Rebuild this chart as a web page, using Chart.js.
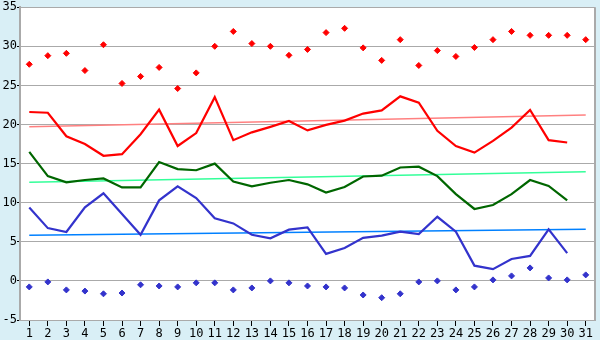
<!DOCTYPE html>
<html>
<head>
<meta charset="utf-8">
<script src="https://cdn.jsdelivr.net/npm/chart.js@4/dist/chart.umd.min.js"></script>
<style>
html,body{margin:0;padding:0;background:#d9eff6;}
#wrap{width:600px;height:340px;position:relative;}
</style>
</head>
<body>
<div id="wrap"><canvas id="c" width="600" height="340"></canvas></div>
<script>
const days = ['1','2','3','4','5','6','7','8','9','10','11','12','13','14','15','16','17','18','19','20','21','22','23','24','25','26','27','28','29','30','31'];
const yTicks = [-5, 0, 5, 10, 15, 20, 25, 30, 35];

const maxTemp = [21.6,21.5,18.5,17.5,16.0,16.2,18.75,21.9,17.25,18.9,23.5,18.0,19.0,19.7,20.45,19.25,19.95,20.5,21.4,21.8,23.6,22.8,19.2,17.25,16.4,17.9,19.6,21.85,18.0,17.7,null];
const meanTemp = [16.5,13.4,12.6,12.9,13.1,11.95,11.95,15.2,14.3,14.15,15.0,12.7,12.1,12.55,12.9,12.35,11.3,12.0,13.35,13.45,14.5,14.6,13.4,11.1,9.2,9.7,11.1,12.9,12.15,10.3,null];
const minTemp = [9.4,6.75,6.25,9.4,11.2,8.55,5.9,10.3,12.1,10.6,8.0,7.35,5.9,5.45,6.55,6.85,3.45,4.2,5.5,5.8,6.3,6.0,8.2,6.3,1.95,1.5,2.8,3.2,6.6,3.55,null];
const extremeMax = [27.7,28.8,29.1,26.9,30.2,25.25,26.15,27.3,24.6,26.6,30.0,31.9,30.35,30.0,28.85,29.6,31.75,32.3,29.8,28.2,30.85,27.55,29.45,28.7,29.85,30.85,31.9,31.4,31.4,31.4,30.85];
const extremeMin = [-0.77,-0.13,-1.15,-1.3,-1.65,-1.55,-0.5,-0.65,-0.77,-0.25,-0.25,-1.15,-0.9,0.0,-0.25,-0.65,-0.77,-0.9,-1.8,-2.15,-1.65,-0.13,0.0,-1.15,-0.77,0.13,0.64,1.66,0.38,0.13,0.77];
// trend line end points (day 1 and day 31)
const maxTrend = [19.7, 21.2];
const meanTrend = [12.6, 13.95];
const minTrend = [5.85, 6.6];

function trendSeries(ends){
  const arr = days.map(() => null);
  arr[0] = ends[0];
  arr[days.length - 1] = ends[1];
  return arr;
}

const bgPlugin = {
  id: 'bg',
  beforeDraw(chart){
    const {ctx, chartArea:a} = chart;
    ctx.save();
    ctx.fillStyle = '#d9eff6';
    ctx.fillRect(0,0,chart.width,chart.height);
    ctx.fillStyle = '#ffffff';
    ctx.fillRect(a.left,a.top,a.right-a.left,a.bottom-a.top);
    ctx.restore();
  },
  afterDraw(chart){
    const {ctx, chartArea:a} = chart;
    ctx.save();
    ctx.strokeStyle = '#aaaaaa';
    ctx.lineWidth = 2;
    ctx.beginPath();
    ctx.moveTo(a.right, a.top);
    ctx.lineTo(a.right, a.bottom);
    ctx.stroke();
    ctx.restore();
  }
};

const lineBase = {type:'line', pointRadius:0, pointHoverRadius:0, tension:0, fill:false, borderJoinStyle:'miter'};

new Chart(document.getElementById('c'), {
  type: 'line',
  data: {
    labels: days,
    datasets: [
      Object.assign({}, lineBase, {label:'max', data:maxTemp, borderColor:'#ff0000', borderWidth:2.2, order:1}),
      Object.assign({}, lineBase, {label:'mean', data:meanTemp, borderColor:'#006600', borderWidth:2.2, order:1}),
      Object.assign({}, lineBase, {label:'min', data:minTemp, borderColor:'#3333cc', borderWidth:2.2, order:1}),
      {type:'line', label:'extreme max', data:extremeMax, showLine:false, pointStyle:'rectRot', pointRadius:3, backgroundColor:'#ff0000', borderColor:'#ff0000', borderWidth:1, order:0},
      {type:'line', label:'extreme min', data:extremeMin, showLine:false, pointStyle:'rectRot', pointRadius:3, backgroundColor:'#3333cc', borderColor:'#3333cc', borderWidth:1, order:0},
      Object.assign({}, lineBase, {label:'max trend', data:trendSeries(maxTrend), spanGaps:true, borderColor:'#ff8080', borderWidth:1.5, order:2}),
      Object.assign({}, lineBase, {label:'mean trend', data:trendSeries(meanTrend), spanGaps:true, borderColor:'#33ff99', borderWidth:1.5, order:2}),
      Object.assign({}, lineBase, {label:'min trend', data:trendSeries(minTrend), spanGaps:true, borderColor:'#0080ff', borderWidth:1.5, order:2})
    ]
  },
  options: {
    responsive:false,
    animation:false,
    events:[],
    layout:{padding:{top:5,right:5,left:0,bottom:0}},
    plugins:{legend:{display:false}, tooltip:{enabled:false}},
    scales:{
      x:{
        offset:true,
        grid:{display:true, drawOnChartArea:false, drawTicks:true, tickLength:6, tickColor:'#000000', color:'#000000'},
        border:{display:true, color:'#aaaaaa', width:1},
        ticks:{color:'#000000', font:{family:'DejaVu Sans Mono', size:12}, padding:1, maxRotation:0, autoSkip:false},
        afterFit(s){ s.height = 20; }
      },
      y:{
        min:-5, max:35,
        afterBuildTicks(s){ s.ticks = yTicks.map(v => ({value:v})); },
        grid:{color:'#aaaaaa', lineWidth:1, drawTicks:true, tickLength:3, tickColor:'#000000'},
        border:{display:true, color:'#aaaaaa', width:2},
        ticks:{color:'#000000', font:{family:'DejaVu Sans Mono', size:12}, padding:0},
        afterFit(s){ s.width = 20; }
      }
    }
  },
  plugins:[bgPlugin]
});
</script>
</body>
</html>
